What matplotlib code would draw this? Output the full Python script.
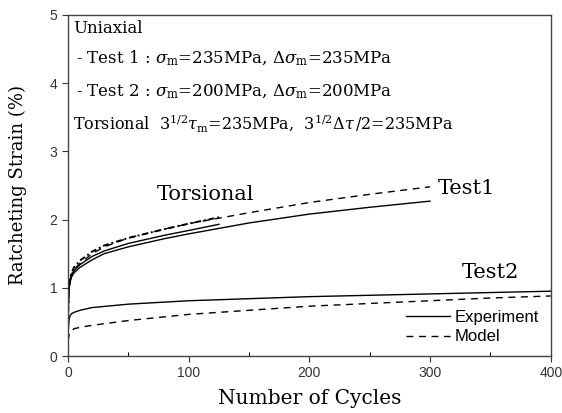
import matplotlib.pyplot as plt
from matplotlib.ticker import MultipleLocator

plt.rcParams['mathtext.fontset'] = 'dejavuserif'

# Uniaxial test 1 (sigma_m = 235 MPa)
n_t1_exp = [0, 0.5, 1, 2, 3, 5, 10, 20, 30, 50, 80, 100, 150, 200, 250, 300]
eps_t1_exp = [0.5, 0.85, 1.0, 1.1, 1.16, 1.22, 1.3, 1.41, 1.5, 1.6, 1.72, 1.79, 1.95, 2.08, 2.18, 2.27]
n_t1_mod = [0, 0.5, 1, 2, 3, 5, 10, 20, 30, 50, 80, 100, 150, 200, 250, 300]
eps_t1_mod = [0.4, 0.9, 1.05, 1.14, 1.2, 1.27, 1.36, 1.5, 1.6, 1.73, 1.86, 1.94, 2.1, 2.25, 2.37, 2.48]

# Uniaxial test 2 (sigma_m = 200 MPa)
n_t2_exp = [0, 0.5, 1, 2, 3, 5, 10, 20, 50, 100, 150, 200, 250, 300, 350, 400]
eps_t2_exp = [0.3, 0.45, 0.55, 0.6, 0.62, 0.64, 0.67, 0.71, 0.76, 0.81, 0.84, 0.87, 0.89, 0.91, 0.93, 0.95]
n_t2_mod = [0, 0.5, 1, 2, 3, 5, 10, 20, 50, 100, 150, 200, 250, 300, 350, 400]
eps_t2_mod = [0.22, 0.27, 0.31, 0.35, 0.37, 0.4, 0.42, 0.45, 0.52, 0.61, 0.67, 0.73, 0.77, 0.81, 0.85, 0.88]

# Torsional test
n_tor_exp = [0, 0.5, 1, 2, 3, 5, 10, 20, 30, 50, 80, 100, 125]
eps_tor_exp = [0.55, 0.9, 1.02, 1.12, 1.18, 1.25, 1.34, 1.46, 1.54, 1.65, 1.77, 1.84, 1.93]
n_tor_mod = [0, 0.5, 1, 2, 3, 5, 10, 20, 30, 50, 80, 100, 127]
eps_tor_mod = [0.45, 0.92, 1.06, 1.16, 1.22, 1.3, 1.4, 1.53, 1.62, 1.73, 1.86, 1.94, 2.04]

fig = plt.figure(figsize=(5.62, 4.13), dpi=100)
ax = fig.add_axes([0.121, 0.138, 0.859, 0.826])

ax.plot(n_t1_exp, eps_t1_exp, color='black', lw=1.0, label='Experiment')
ax.plot(n_t1_mod, eps_t1_mod, color='black', lw=1.0, ls=(0, (5, 4)), label='Model')
ax.plot(n_t2_exp, eps_t2_exp, color='black', lw=1.0)
ax.plot(n_t2_mod, eps_t2_mod, color='black', lw=1.0, ls=(0, (5, 4)))
ax.plot(n_tor_exp, eps_tor_exp, color='black', lw=1.0)
ax.plot(n_tor_mod, eps_tor_mod, color='black', lw=1.4, ls=(0, (3, 1.5, 1, 1.5)))

ax.set_xlim(0, 400)
ax.set_ylim(0, 5)
ax.xaxis.set_major_locator(MultipleLocator(100))
ax.xaxis.set_minor_locator(MultipleLocator(50))
ax.yaxis.set_major_locator(MultipleLocator(1))
ax.tick_params(which='major', direction='out', length=4, width=0.8, labelsize=10, colors='#333333')
ax.tick_params(which='minor', direction='in', length=3, width=0.8)
for lab in ax.get_xticklabels() + ax.get_yticklabels():
    lab.set_family('Liberation Sans')
for sp in ax.spines.values():
    sp.set_color('#444444')
    sp.set_linewidth(1.0)

serif = 'DejaVu Serif'
ax.set_xlabel('Number of Cycles', family=serif, fontsize=14.5, labelpad=6)
ax.set_ylabel('Ratcheting Strain (%)', family=serif, fontsize=13, labelpad=16)

tk = dict(family=serif, fontsize=12, va='center', ha='left')
ax.text(4, 4.80, 'Uniaxial', **tk)
ax.text(7, 4.36, r'- Test 1 : $\sigma_{\rm m}$=235MPa, $\Delta\sigma_{\rm m}$=235MPa', **tk)
ax.text(7, 3.87, r'- Test 2 : $\sigma_{\rm m}$=200MPa, $\Delta\sigma_{\rm m}$=200MPa', **tk)
ax.text(4, 3.41, r'Torsional  $3^{1/2}\tau_{\rm m}$=235MPa,  $3^{1/2}\Delta\tau\,/2$=235MPa',
        family=serif, fontsize=11.5, va='center', ha='left')

ax.text(114, 2.36, 'Torsional', family=serif, fontsize=15, ha='center', va='center')
ax.text(306, 2.46, 'Test1', family=serif, fontsize=15, ha='left', va='center')
ax.text(326, 1.22, 'Test2', family=serif, fontsize=15, ha='left', va='center')

ax.legend(loc='lower right', bbox_to_anchor=(1.0, 0.0), frameon=False, prop={'family': 'Liberation Sans', 'size': 12},
          handlelength=2.6, handletextpad=0.3, labelspacing=0.25, borderaxespad=0.3)

fig.savefig('out.png', dpi=100)
